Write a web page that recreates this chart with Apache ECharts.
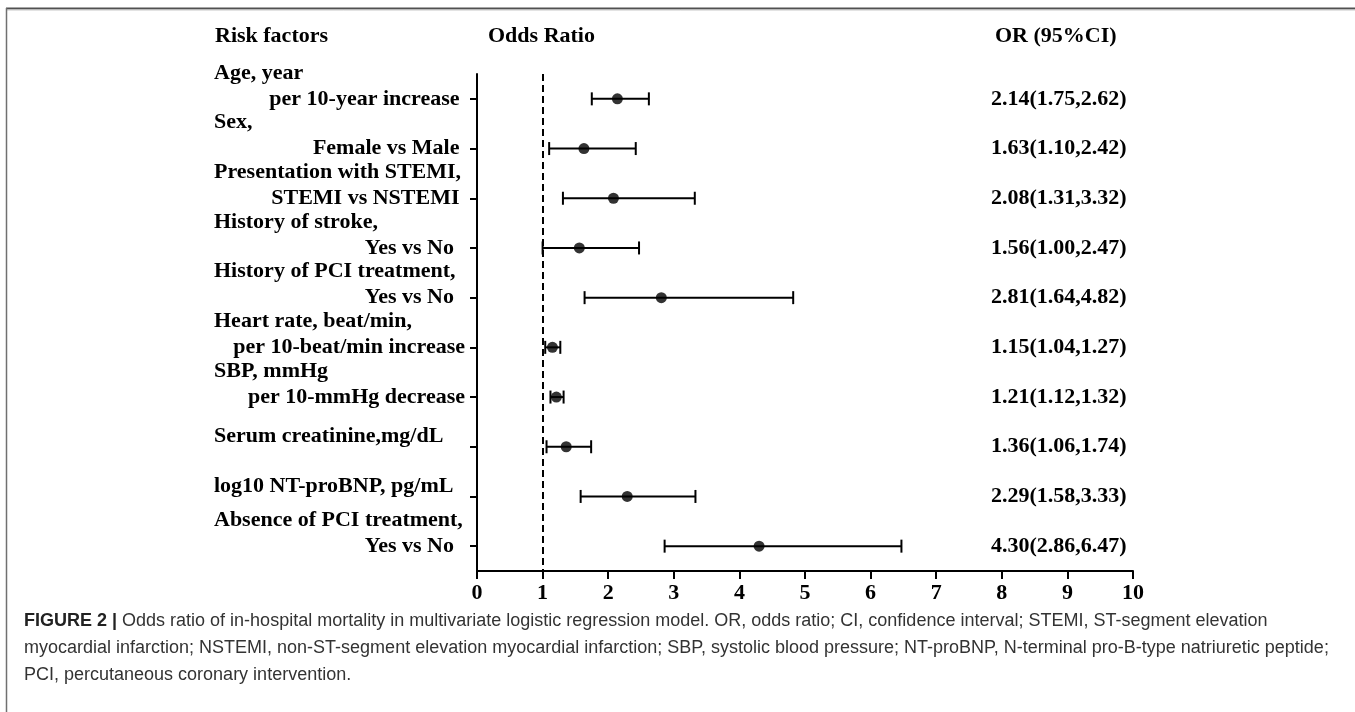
<!DOCTYPE html>
<html><head><meta charset="utf-8">
<script src="https://cdn.jsdelivr.net/npm/echarts@6/dist/echarts.min.js"></script>
<style>html,body{margin:0;padding:0;background:#fff}#c{width:1355px;height:712px}</style>
</head><body><div id="c"></div><script>
const groupTitles = ['Age, year','Sex,','Presentation with STEMI,','History of stroke,','History of PCI treatment,','Heart rate, beat/min,','SBP, mmHg','Serum creatinine,mg/dL','log10 NT-proBNP, pg/mL','Absence of PCI treatment,'];
const subLabels = ['per 10-year increase ','Female vs Male ','STEMI vs NSTEMI ','Yes vs No  ','Yes vs No  ','per 10-beat/min increase','per 10-mmHg decrease','','','Yes vs No  '];
const orValues = [2.14,1.63,2.08,1.56,2.81,1.15,1.21,1.36,2.29,4.30];
const ciLower = [1.75,1.10,1.31,1.00,1.64,1.04,1.12,1.06,1.58,2.86];
const ciUpper = [2.62,2.42,3.32,2.47,4.82,1.27,1.32,1.74,3.33,6.47];
const orLabels = ['2.14(1.75,2.62)','1.63(1.10,2.42)','2.08(1.31,3.32)','1.56(1.00,2.47)','2.81(1.64,4.82)','1.15(1.04,1.27)','1.21(1.12,1.32)','1.36(1.06,1.74)','2.29(1.58,3.33)','4.30(2.86,6.47)'];
const headers = ['Risk factors','Odds Ratio','OR (95%CI)'];
const captionLines = [
  '{b|FIGURE 2 |} Odds ratio of in-hospital mortality in multivariate logistic regression model. OR, odds ratio; CI, confidence interval; STEMI, ST-segment elevation',
  'myocardial infarction; NSTEMI, non-ST-segment elevation myocardial infarction; SBP, systolic blood pressure; NT-proBNP, N-terminal pro-B-type natriuretic peptide;',
  'PCI, percutaneous coronary intervention.'
];

const SERIF = '"Liberation Serif","Times New Roman",serif';
const SANS = '"Liberation Sans",Arial,sans-serif';
const FS = 22;
const CFS = 18;
const tf = {fontFamily: SERIF, fontWeight: 'bold', fontSize: FS, color: '#000'};

const chart = echarts.init(document.getElementById('c'), null, {renderer: 'canvas'});
chart.setOption({
  animation: false,
  backgroundColor: '#fff',
  grid: {left: 477, right: 222, top: 74, bottom: 141, outerBoundsMode: 'none', containLabel: false},
  xAxis: {
    type: 'value', min: 0, max: 10, interval: 1,
    axisLine: {show: true, lineStyle: {color: '#000', width: 2}},
    axisTick: {show: true, length: 8, lineStyle: {color: '#000', width: 2}},
    axisLabel: {margin: 11, fontFamily: SERIF, fontWeight: 'bold', fontSize: FS, color: '#000'},
    splitLine: {show: false}
  },
  yAxis: [{
    type: 'category', data: groupTitles, inverse: true, boundaryGap: true,
    axisLine: {show: true, lineStyle: {color: '#000', width: 2}},
    axisTick: {show: true, alignWithLabel: true, interval: 0, length: 7, lineStyle: {color: '#000', width: 2}},
    axisLabel: {
      interval: 0, margin: 12, width: 251, overflow: 'none', align: 'right',
      formatter: function (v, i) {
        return subLabels[i]
          ? '{t|' + groupTitles[i] + '}\n{s|' + subLabels[i] + '}\n{e| }'
          : '{t|' + groupTitles[i] + '}\n{f| }';
      },
      rich: {
        t: Object.assign({}, tf, {align: 'left', lineHeight: 26}),
        s: Object.assign({}, tf, {align: 'right', lineHeight: 26}),
        e: Object.assign({}, tf, {align: 'right', lineHeight: 26}),
        f: Object.assign({}, tf, {align: 'right', lineHeight: 20, fontSize: 10})
      }
    },
    splitLine: {show: false}
  }, {
    type: 'category', data: orLabels, inverse: true, boundaryGap: true, position: 'right', offset: -142,
    axisLine: {show: false}, axisTick: {show: false}, splitLine: {show: false},
    axisLabel: Object.assign({interval: 0, margin: 0, align: 'left'}, tf)
  }],
  series: [{
    type: 'custom', xAxisIndex: 0, yAxisIndex: 0,
    data: ciLower.map(function (l, i) { return [l, ciUpper[i], i]; }),
    encode: {x: [0, 1], y: 2},
    renderItem: function (params, api) {
      const i = api.value(2);
      const a = api.coord([api.value(0), i]);
      const b = api.coord([api.value(1), i]);
      const h = 6.5;
      const st = {stroke: '#000', lineWidth: 2};
      return {type: 'group', children: [
        {type: 'line', shape: {x1: a[0], y1: a[1], x2: b[0], y2: b[1]}, style: st},
        {type: 'line', shape: {x1: a[0], y1: a[1] - h, x2: a[0], y2: a[1] + h}, style: st},
        {type: 'line', shape: {x1: b[0], y1: b[1] - h, x2: b[0], y2: b[1] + h}, style: st}
      ]};
    },
    z: 2
  }, {
    type: 'scatter', xAxisIndex: 0, yAxisIndex: 0,
    data: orValues.map(function (v, i) { return [v, i]; }),
    symbol: 'circle', symbolSize: 11, itemStyle: {color: '#000'}, z: 3,
    markLine: {
      silent: true, symbol: ['none', 'none'], label: {show: false},
      lineStyle: {color: '#000', type: [7, 4], width: 2},
      data: [{xAxis: 1}]
    }
  }],
  graphic: [
    {type: 'line', shape: {x1: 6, y1: 8.5, x2: 1355, y2: 8.5}, style: {stroke: '#505050', lineWidth: 2}},
    {type: 'line', shape: {x1: 6, y1: 10, x2: 1355, y2: 10}, style: {stroke: '#c8c8c8', lineWidth: 1}},
    {type: 'line', shape: {x1: 6.5, y1: 8, x2: 6.5, y2: 712}, style: {stroke: '#707070', lineWidth: 1.5}},
    {type: 'text', x: 215, y: 36, style: {text: headers[0], fontFamily: SERIF, fontWeight: 'bold', fontSize: FS, fill: '#000', verticalAlign: 'middle'}},
    {type: 'text', x: 488, y: 36, style: {text: headers[1], fontFamily: SERIF, fontWeight: 'bold', fontSize: FS, fill: '#000', verticalAlign: 'middle'}},
    {type: 'text', x: 995, y: 36, style: {text: headers[2], fontFamily: SERIF, fontWeight: 'bold', fontSize: FS, fill: '#000', verticalAlign: 'middle'}},
    {type: 'text', x: 24, y: 621, style: {text: captionLines[0], fontFamily: SANS, fontSize: CFS, fill: '#333', verticalAlign: 'middle',
      rich: {b: {fontFamily: SANS, fontSize: CFS, fontWeight: 'bold', fill: '#222'}}}},
    {type: 'text', x: 24, y: 648, style: {text: captionLines[1], fontFamily: SANS, fontSize: CFS, fill: '#333', verticalAlign: 'middle'}},
    {type: 'text', x: 24, y: 675, style: {text: captionLines[2], fontFamily: SANS, fontSize: CFS, fill: '#333', verticalAlign: 'middle'}}
  ]
});
</script></body></html>
